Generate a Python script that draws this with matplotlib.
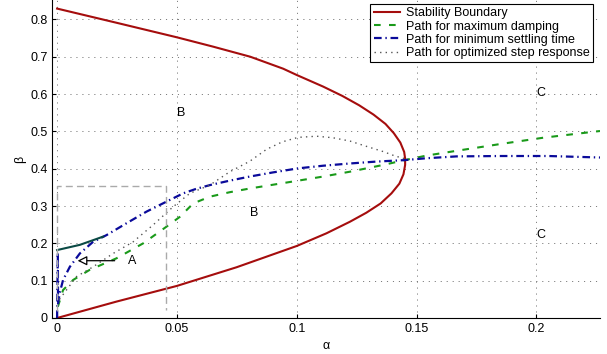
import matplotlib
matplotlib.use('Agg')
import matplotlib.pyplot as plt

# stability boundary (alpha, beta)
stab_a = [0, 0.0248, 0.05, 0.0749, 0.1, 0.1124, 0.1222, 0.129, 0.135, 0.1395,
          0.1428, 0.1445, 0.1452, 0.1452, 0.1448, 0.1432, 0.1405, 0.137, 0.132,
          0.126, 0.119, 0.111, 0.1, 0.0943, 0.0806, 0.0651, 0.05, 0.0248, 0]
stab_b = [0, 0.044, 0.086, 0.136, 0.193, 0.227, 0.258, 0.282, 0.307, 0.334,
          0.36, 0.385, 0.41, 0.427, 0.445, 0.47, 0.495, 0.52, 0.545,
          0.57, 0.595, 0.62, 0.651, 0.668, 0.700, 0.727, 0.752, 0.791, 0.829]

# path for maximum damping
damp_a = [0.0003, 0.0025, 0.0067, 0.0136, 0.0248, 0.0359, 0.0457, 0.0512, 0.0568,
          0.0637, 0.072, 0.0804, 0.09, 0.1006, 0.111, 0.1222, 0.136, 0.145,
          0.154, 0.1667, 0.1848, 0.2028, 0.2265]
damp_b = [0.03, 0.075, 0.102, 0.129, 0.160, 0.200, 0.245, 0.271, 0.307,
          0.325, 0.337, 0.347, 0.357, 0.368, 0.379, 0.392, 0.410, 0.423,
          0.435, 0.448, 0.466, 0.483, 0.501]

# path for minimum settling time
settle_a = [0, 0.0003, 0.0004, 0.0012, 0.0025, 0.0053, 0.0095, 0.015, 0.0206,
            0.029, 0.0373, 0.0457, 0.0526, 0.058, 0.0637, 0.072, 0.0804, 0.09,
            0.1006, 0.111, 0.1222, 0.133, 0.145, 0.154, 0.1667, 0.185, 0.205,
            0.2265]
settle_b = [0, 0.175, 0.039, 0.07, 0.102, 0.137, 0.173, 0.204, 0.222,
            0.254, 0.285, 0.312, 0.334, 0.346, 0.356, 0.368, 0.379, 0.39,
            0.401, 0.408, 0.414, 0.419, 0.423, 0.428, 0.433, 0.434, 0.434,
            0.430]

# path for optimized step response
step_a = [0.001, 0.0081, 0.015, 0.0234, 0.0317, 0.04, 0.0484, 0.0554, 0.0637,
          0.0721, 0.0804, 0.0874, 0.094, 0.1006, 0.1083, 0.115, 0.1222, 0.129,
          0.136, 0.141, 0.145]
step_b = [0.05, 0.111, 0.137, 0.173, 0.204, 0.249, 0.298, 0.334, 0.356,
          0.392, 0.42, 0.452, 0.472, 0.484, 0.487, 0.483, 0.474, 0.46,
          0.446, 0.434, 0.427]

# short solid segment at the start
seg_a = [0, 0.0095, 0.0192]
seg_b = [0.182, 0.196, 0.218]

# zoom box
box_a = [0, 0, 0.0453, 0.0453]
box_b = [0.02, 0.354, 0.354, 0.022]

xticks = [0, 0.05, 0.1, 0.15, 0.2]
xtick_labels = ['0', '0.05', '0.1', '0.15', '0.2']
yticks = [0, 0.1, 0.2, 0.3, 0.4, 0.5, 0.6, 0.7, 0.8]
ytick_labels = ['0', '0.1', '0.2', '0.3', '0.4', '0.5', '0.6', '0.7', '0.8']

plt.rcParams['font.family'] = ['Liberation Sans', 'DejaVu Sans']
plt.rcParams['font.size'] = 9
plt.rcParams['lines.scale_dashes'] = False

fig = plt.figure(figsize=(6.07, 3.54), dpi=100)
ax = fig.add_axes([52.3 / 607, 1 - 318 / 354, (600 - 52.3) / 607, 318 / 354])

ax.plot(stab_a, stab_b, '-', color='#a50d0d', lw=1.5, label='Stability Boundary')
ax.plot(damp_a, damp_b, color='#1a9a1a', lw=1.5, dashes=(4.8, 6),
        label='Path for maximum damping')
ax.plot(settle_a, settle_b, color='#0a0a9a', lw=1.6, dashes=(5.5, 2.7, 1, 2.7),
        label='Path for minimum settling time')
ax.plot(step_a, step_b, color='#555555', lw=1.0, dashes=(1, 3),
        label='Path for optimized step response')
ax.plot(seg_a, seg_b, '-', color='#0b4a45', lw=1.5)
ax.plot(box_a, box_b, color='#aaaaaa', lw=1.0, dashes=(5, 3))

# annotations
ax.annotate('', xy=(0.0074, 0.1535), xytext=(0.0252, 0.1535),
            arrowprops=dict(arrowstyle='-|>', edgecolor='black', lw=0.9,
                            facecolor='white', mutation_scale=14))
ax.text(0.0295, 0.1535, 'A', ha='left', va='center')
ax.text(0.05, 0.549, 'B', ha='left', va='center')
ax.text(0.0805, 0.282, 'B', ha='left', va='center')
ax.text(0.2, 0.602, 'C', ha='left', va='center')
ax.text(0.2, 0.222, 'C', ha='left', va='center')

ax.set_xlim(-0.002, 0.2265)
ax.set_ylim(0, 0.852)
ax.set_xticks(xticks)
ax.set_xticklabels(xtick_labels)
ax.set_yticks(yticks)
ax.set_yticklabels(ytick_labels)
ax.tick_params(direction='in', length=3, labelsize=9)
ax.grid(True, color='#666666', lw=0.6, dashes=(0.8, 3.5))
ax.set_axisbelow(True)
ax.spines['top'].set_visible(False)
ax.spines['right'].set_visible(False)
ax.set_xlabel('α', fontsize=9, labelpad=4)
ax.set_ylabel('β', fontsize=9, labelpad=3)

leg = ax.legend(loc='upper right', bbox_to_anchor=(0.987, 0.987), borderaxespad=0,
                fontsize=9, fancybox=False, framealpha=1, edgecolor='black',
                handlelength=2.1, labelspacing=0.1, borderpad=0.25,
                handletextpad=0.5)
leg.get_frame().set_linewidth(0.8)

fig.savefig('out.png', dpi=100)
